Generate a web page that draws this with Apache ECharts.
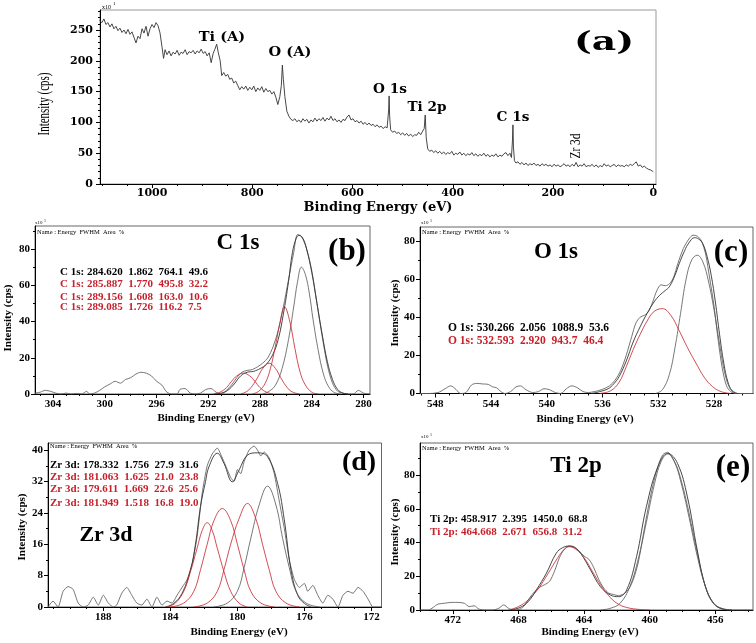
<!DOCTYPE html>
<html><head><meta charset="utf-8">
<script src="https://cdn.jsdelivr.net/npm/echarts@6/dist/echarts.min.js"></script>
<style>html,body{margin:0;padding:0;background:#fff}#c{width:756px;height:643px}</style>
</head><body><div id="c"></div>
<script>
// ---------- tick labels ----------
const xTicksA = [0,200,400,600,800,1000];
const yTicksA = [0,50,100,150,200,250];
const xTicksB = [280,284,288,292,296,300,304];
const yTicksB = [0,20,40,60,80];
const xTicksC = [528,532,536,540,544,548];
const yTicksC = [0,20,40,60,80];
const xTicksD = [172,176,180,184,188];
const yTicksD = [0,8,16,24,32,40];
const xTicksE = [456,460,464,468,472];
const yTicksE = [0,20,40,60,80];

// ---------- (a) survey spectrum [eV, counts x10] ----------
const surveyA = [[1105,266],[1100,262],[1096,268],[1092,259],[1088,262],[1084,255],[1080,260],[1076,252],[1072,256],[1068,249],[1064,253],[1060,246],[1056,250],[1052,244],[1048,251],[1044,243],[1040,247],[1036,238],[1032,229],[1028,240],[1024,236],[1020,252],[1016,245],[1012,256],[1008,240],[1004,252],[1000,259],[996,254],[992,262],[988,257],[984,245],[980,222],[977,204],[974,218],[970,210],[966,216],[962,208],[958,214],[954,211],[950,217],[946,209],[942,214],[938,212],[934,218],[930,210],[926,215],[922,213],[918,217],[914,211],[910,216],[906,213],[902,219],[898,212],[894,215],[890,208],[886,213],[882,197],[878,212],[875,218],[871,227],[868,214],[864,200],[861,176],[857,181],[853,175],[849,178],[845,170],[841,172],[837,164],[833,167],[829,160],[825,153],[821,158],[817,154],[813,159],[809,152],[805,157],[801,153],[797,159],[793,150],[789,156],[785,152],[781,158],[777,149],[773,155],[769,150],[765,152],[761,146],[757,150],[753,141],[749,129],[745,142],[742,160],[740,193],[738,170],[735,142],[731,118],[727,110],[723,105],[719,103],[715,106],[711,101],[707,104],[703,100],[699,106],[695,102],[691,105],[687,99],[683,104],[679,101],[675,107],[671,102],[667,106],[663,103],[659,108],[655,102],[651,107],[647,104],[643,110],[639,103],[635,106],[631,101],[627,104],[623,100],[619,105],[615,103],[611,109],[607,112],[603,104],[599,106],[595,101],[591,103],[587,99],[583,102],[579,97],[575,100],[571,96],[567,99],[563,95],[559,97],[555,93],[551,96],[547,92],[543,94],[539,90],[535,93],[531,91],[528,120],[527,143],[526,110],[524,88],[520,84],[516,86],[512,82],[508,84],[504,80],[500,83],[496,79],[492,82],[488,78],[484,81],[480,77],[476,80],[472,79],[468,84],[464,80],[460,86],[457,90],[455,112],[453,75],[450,57],[446,53],[442,55],[438,51],[434,54],[430,50],[426,53],[422,49],[418,52],[414,48],[410,51],[406,49],[402,53],[398,47],[394,50],[390,48],[386,52],[382,47],[378,50],[374,46],[370,49],[366,47],[362,51],[358,46],[354,49],[350,45],[346,48],[342,46],[338,50],[334,45],[330,48],[326,44],[322,47],[318,45],[314,49],[310,44],[306,47],[302,45],[298,49],[294,51],[290,46],[286,50],[283,43],[281,70],[280,96],[279,60],[277,38],[274,34],[270,36],[266,32],[262,35],[258,31],[254,34],[250,30],[246,33],[242,31],[238,34],[234,30],[230,32],[226,29],[222,33],[218,30],[214,32],[210,29],[206,31],[202,28],[198,32],[194,29],[190,31],[186,28],[182,30],[178,33],[174,29],[170,31],[166,28],[162,32],[158,29],[154,35],[150,28],[146,31],[142,29],[138,33],[134,28],[130,30],[126,29],[122,32],[118,28],[114,31],[110,27],[106,30],[102,28],[98,33],[94,29],[90,31],[86,28],[82,30],[78,32],[74,28],[70,31],[66,29],[62,30],[58,28],[54,31],[50,29],[46,32],[42,30],[38,33],[34,36],[30,29],[26,31],[22,27],[18,29],[14,26],[10,24],[6,23],[2,21],[0,20]];

// ---------- (b) C 1s ----------
const c1sRaw = [[305.4,0.5],[305,1],[304.6,2],[304.2,1.5],[303.8,0.5],[303.4,0],[303,0.5],[302.6,0],[302.2,0.3],[301.8,0],[301.4,1.5],[301.2,0],[300.8,0.5],[300.4,2],[300,4],[299.6,5.5],[299.2,7],[298.8,6],[298.4,8],[298,9],[297.6,11],[297.2,12],[296.8,11.5],[296.4,10],[296,7],[295.6,5],[295.2,1],[294.8,0],[294.4,0],[294.2,2.5],[293.8,3],[293.4,0.5],[293,0],[292.6,0.5],[292.2,2.5],[291.8,3],[291.4,1],[291,0],[290.6,2],[290.2,5],[289.8,9],[289.4,12],[289,13],[288.6,13.5],[288.2,15],[287.8,17],[287.4,20],[287,26],[286.6,35],[286.2,48],[285.8,63],[285.4,78],[285.1,88],[284.8,87],[284.4,80],[284,68],[283.6,50],[283.2,32],[282.8,16],[282.4,6],[282,1.5],[281.6,0.5],[281.2,0],[280.8,0],[280.4,2],[280,0.5],[279.5,0]];
const c1sEnv = [[291.5,0],[291,0.5],[290.5,2],[290,5.5],[289.5,10],[289,12],[288.5,12.5],[288,14],[287.5,16.5],[287,22],[286.6,30],[286.2,44],[285.8,62],[285.5,78],[285.2,86],[285,87.5],[284.7,86],[284.4,80],[284,67],[283.6,50],[283.2,33],[282.8,18],[282.4,8],[282,2.5],[281.6,0.5],[281.2,0]];
const c1sComp1 = [[287.8,0],[287.3,1.5],[286.8,5],[286.3,14],[285.8,30],[285.4,48],[285.1,62],[284.8,70],[284.5,66],[284.2,56],[283.9,41],[283.5,24],[283.1,11],[282.7,4],[282.3,1],[281.8,0]];
const c1sComp2 = [[288.6,0],[288.1,1.5],[287.6,6],[287.2,14],[286.8,27],[286.5,38],[286.1,48],[285.7,40],[285.3,25],[284.9,12],[284.5,5],[284,1],[283.5,0]];
const c1sComp3 = [[289.5,0],[289,1.5],[288.6,4.5],[288.2,9],[287.8,14],[287.3,17],[286.8,14],[286.4,9],[286,4.5],[285.6,1.5],[285,0]];
const c1sComp4 = [[291.6,0],[291.1,1],[290.6,3.5],[290.2,7],[289.8,10],[289.3,11.5],[288.8,10],[288.4,7],[288,3.5],[287.5,1],[287,0]];

// ---------- (c) O 1s ----------
const o1sRaw = [[549.1,0],[548.5,0],[547.8,0.5],[547.3,2.5],[546.9,4],[546.5,2],[546.2,0],[545.8,0.5],[545.4,4.5],[545,5.3],[544.6,5],[544.2,4.8],[543.9,3.5],[543.6,3],[543.3,1],[543,0],[542.6,1],[542.2,3.5],[541.9,4],[541.5,2],[541,0.5],[540.6,1],[540.2,2.5],[539.8,2],[539.4,0.5],[539,0],[538.6,2.5],[538.2,4],[537.8,3],[537.4,1],[537,0.5],[536.6,1],[536.3,1.5],[535.9,2.5],[535.5,4],[535.1,7],[534.7,12],[534.3,20],[533.9,30],[533.6,37],[533.3,40],[533,41],[532.7,43],[532.4,48],[532.1,54],[531.8,57],[531.5,56.5],[531.2,57.5],[530.9,61],[530.6,68],[530.2,76],[529.8,81],[529.5,83],[529.2,82.5],[528.9,80],[528.6,73],[528.3,60],[528,46],[527.7,28],[527.4,13],[527.1,4],[526.8,1],[526.4,0],[525.2,0]];
const o1sEnv = [[536.8,0],[536.2,1],[535.6,2.5],[535.2,5],[534.8,9],[534.3,17],[533.8,27],[533.3,35],[532.8,42],[532.3,48],[531.9,51.5],[531.5,54],[531.2,56],[530.8,62],[530.5,68],[530.1,75],[529.8,79],[529.4,81.7],[529.1,81],[528.8,78.5],[528.5,72],[528.2,62],[527.9,48],[527.6,31],[527.3,16],[527,6],[526.7,1.5],[526.3,0]];
const o1sComp1 = [[532.2,0],[531.7,2],[531.2,10],[530.8,24],[530.4,42],[530,60],[529.6,70],[529.2,72.5],[528.8,69],[528.4,59],[528,44],[527.6,26],[527.2,10],[526.8,2],[526.4,0]];
const o1sComp2 = [[536.2,0],[535.4,1.5],[534.8,6],[534.3,14],[533.8,23],[533.3,31],[532.8,38],[532.3,43],[531.7,44.5],[531.1,41],[530.5,33],[529.9,24],[529.3,16],[528.7,8.5],[528.1,3.6],[527.5,1],[526.8,0]];

// ---------- (d) Zr 3d ----------
const zrRaw = [[191.3,0],[191,1.5],[190.7,0],[190.4,4],[190.1,5.2],[189.8,4.5],[189.5,1],[189.2,0],[188.9,0.5],[188.6,2.5],[188.3,0.5],[188,3],[187.7,1],[187.4,0],[187.2,0.5],[186.9,3.5],[186.6,5],[186.3,3],[186,1],[185.7,0.5],[185.4,2],[185.1,0],[184.8,2.5],[184.5,0.5],[184.2,1.5],[183.9,1],[183.6,3],[183.3,5],[183,7],[182.7,11],[182.4,18],[182.1,29],[181.8,36],[181.5,39],[181.2,40.5],[180.9,38],[180.6,35],[180.4,33],[180.2,32],[180,35],[179.8,34],[179.6,37],[179.3,40],[179,41],[178.8,40],[178.6,38.5],[178.4,39.5],[178.1,38],[177.8,34],[177.5,27],[177.2,20],[176.9,12],[176.6,7],[176.3,5],[176,6],[175.8,4],[175.5,5.5],[175.2,3],[174.9,1],[174.6,3],[174.3,2],[174,0],[173.7,3],[173.4,4],[173.1,3.5],[172.8,5],[172.5,4],[172.2,2],[171.9,0],[171.4,0]];
const zrEnv = [[184.3,0],[183.8,0.9],[183.3,3.5],[182.8,9.4],[182.5,16],[182.2,25.6],[181.9,32],[181.7,35.7],[181.2,39.2],[180.8,36.6],[180.3,31.9],[179.9,34.9],[179.4,38.7],[178.8,39.3],[178.2,38.3],[177.6,31.5],[177.2,22.2],[176.8,9.4],[176.4,3],[176,0.9],[175.6,0]];
const zrComp1 = [[181.4,0],[180.6,1],[180,4],[179.6,10],[179.2,17.5],[178.7,26],[178.2,30.8],[177.7,26],[177.3,17.5],[176.9,10],[176.5,4],[175.9,1],[175.1,0]];
const zrComp2 = [[184,0],[183.2,1],[182.6,4],[182.2,9.5],[181.8,16],[181.4,22],[180.9,25.1],[180.4,22],[180,16],[179.6,9.5],[179.2,4],[178.6,1],[177.8,0]];
const zrComp3 = [[182.6,0],[181.8,1],[181.2,4],[180.8,9.5],[180.4,16],[179.9,22.5],[179.4,26.4],[178.9,22.5],[178.5,16],[178.1,9.5],[177.7,4],[177.1,1],[176.3,0]];
const zrComp4 = [[184.2,0],[183.7,1],[183.2,4],[182.8,9],[182.4,15],[182.1,19.5],[181.8,21.5],[181.5,19.5],[181.2,15],[180.8,9],[180.4,4],[179.9,1],[179.4,0]];

// ---------- (e) Ti 2p ----------
const tiRaw = [[474,0],[473.5,0],[473.2,1.5],[472.9,3.5],[472.5,4],[472.1,4.5],[471.7,4.5],[471.3,4],[471,2],[470.7,2.5],[470.4,0.5],[470,0],[469.6,0],[469.2,1],[468.9,3],[468.6,1],[468.3,0],[467.9,0.5],[467.6,3],[467.3,7.5],[467,11],[466.7,13.5],[466.4,15],[466.1,17],[465.8,23],[465.5,31],[465.2,36],[464.9,38],[464.6,37.5],[464.3,35],[464,32],[463.7,30],[463.4,25],[463.1,18],[462.8,13],[462.5,10],[462.2,9.2],[461.9,8.5],[461.6,9.5],[461.3,12],[461,18],[460.7,28],[460.4,44],[460.1,60],[459.8,74],[459.5,85],[459.2,92],[458.9,93.5],[458.6,90],[458.3,84],[458,74],[457.7,62],[457.4,48],[457.1,34],[456.8,21],[456.5,11],[456.2,5],[455.9,2],[455.5,0.5],[455,0],[453.7,0]];
const tiEnv = [[468.5,0],[467.9,1.5],[467.4,5],[466.9,12],[466.3,21.7],[465.7,33.6],[465.3,37],[464.9,37.9],[464.5,36.5],[464.2,33.6],[463.6,23.7],[463,13.8],[462.4,8.9],[461.9,7.9],[461.4,11.9],[460.8,31.6],[460.2,61.2],[459.5,84.9],[458.9,92.8],[458.3,86.9],[457.7,67.1],[457.1,35.6],[456.6,13.8],[456.1,4],[455.5,0.4],[455,0]];
const tiComp1 = [[463,0],[462.4,1],[461.8,4],[461.2,14],[460.7,30],[460.2,52],[459.7,75],[459.3,88],[458.9,92.5],[458.5,88],[458.1,76],[457.6,55],[457.1,32],[456.6,14],[456.1,4],[455.6,1],[455,0]];
const tiComp2 = [[468.6,0],[468,2],[467.4,6],[466.8,12.5],[466.2,21.5],[465.6,31],[465.2,36],[464.9,37.5],[464.5,36],[464,31],[463.5,23],[463,15],[462.5,8.5],[462,4],[461.4,1.5],[460.6,0.3],[460,0]];

// ---------- fit parameter lines ----------
const fitB = ['C 1s: 284.620  1.862  764.1  49.6','C 1s: 285.887  1.770  495.8  32.2','C 1s: 289.156  1.608  163.0  10.6','C 1s: 289.085  1.726  116.2  7.5'];
const fitC = ['O 1s: 530.266  2.056  1088.9  53.6','O 1s: 532.593  2.920  943.7  46.4'];
const fitD = ['Zr 3d: 178.332  1.756  27.9  31.6','Zr 3d: 181.063  1.625  21.0  23.8','Zr 3d: 179.611  1.669  22.6  25.6','Zr 3d: 181.949  1.518  16.8  19.0'];
const fitE = ['Ti 2p: 458.917  2.395  1450.0  68.8','Ti 2p: 464.668  2.671  656.8  31.2'];

// ---------- layout ----------
const SERIF = 'Liberation Serif';
const WIDE = 'DejaVu Serif';
const RED = '#c8202a';
const panels = [
  {grid:{left:100,top:10,width:556,height:174}, x:[-5.4,1103.8], y:[0,282.5], xt:xTicksA, yt:yTicksA, xm:50, ym:10, font:WIDE, fs:11, xMargin:4, yMargin:7, border:'#999'},
  {grid:{left:35,top:226,width:335,height:168}, x:[279.5,305.4], y:[0,92.7], xt:xTicksB, yt:yTicksB, xm:1, ym:10, font:SERIF, fs:11, xMargin:5, yMargin:5, border:'#666'},
  {grid:{left:420,top:227,width:333,height:166.5}, x:[525.2,549.1], y:[0,87.3], xt:xTicksC, yt:yTicksC, xm:1, ym:10, font:SERIF, fs:11, xMargin:5, yMargin:5, border:'#666'},
  {grid:{left:48,top:443,width:333.5,height:164}, x:[171.4,191.3], y:[0,41.8], xt:xTicksD, yt:yTicksD, xm:1, ym:4, font:SERIF, fs:11, xMargin:5, yMargin:5, border:'#666'},
  {grid:{left:420,top:443,width:333,height:167}, x:[453.7,474.0], y:[0,99], xt:xTicksE, yt:yTicksE, xm:1, ym:10, font:SERIF, fs:11, xMargin:5, yMargin:5, border:'#666'}
];

function minors(lo, hi, step, majors){
  const out = [];
  for (let v = Math.ceil(lo/step)*step; v <= hi + 1e-9; v += step){
    const r = Math.round(v*1000)/1000;
    if (majors.indexOf(r) < 0) out.push(r);
  }
  return out;
}
const plain = v => String(v);

const grids = [], xAxes = [], yAxes = [];
panels.forEach((p,i)=>{
  grids.push(Object.assign({show:true, borderColor:p.border, borderWidth:1, backgroundColor:'transparent'}, p.grid));
});
// major axes
panels.forEach((p,i)=>{
  xAxes.push({type:'value', gridIndex:i, position:'bottom', inverse:true, min:p.x[0], max:p.x[1],
    axisLine:{show:true, onZero:false, lineStyle:{color:'#000', width:1}},
    axisTick:{show:true, inside:false, length:4, customValues:p.xt, lineStyle:{color:'#000'}},
    axisLabel:{show:true, customValues:p.xt, formatter:plain, margin:p.xMargin, color:'#000', fontFamily:p.font, fontWeight:'bold', fontSize:p.fs},
    splitLine:{show:false}});
  yAxes.push({type:'value', gridIndex:i, position:'left', min:p.y[0], max:p.y[1],
    axisLine:{show:true, onZero:false, lineStyle:{color:'#000', width:1}},
    axisTick:{show:true, inside:false, length:4, customValues:p.yt, lineStyle:{color:'#000'}},
    axisLabel:{show:true, customValues:p.yt, formatter:plain, margin:p.yMargin, color:'#000', fontFamily:p.font, fontWeight:'bold', fontSize:p.fs},
    splitLine:{show:false}});
});
// minor tick axes
panels.forEach((p,i)=>{
  xAxes.push({type:'value', gridIndex:i, position:'bottom', inverse:true, min:p.x[0], max:p.x[1],
    axisLine:{show:false, onZero:false}, axisLabel:{show:false},
    axisTick:{show:true, inside:false, length:2, customValues:minors(p.x[0],p.x[1],p.xm,p.xt), lineStyle:{color:'#000'}},
    splitLine:{show:false}});
  yAxes.push({type:'value', gridIndex:i, position:'left', min:p.y[0], max:p.y[1],
    axisLine:{show:false, onZero:false}, axisLabel:{show:false},
    axisTick:{show:true, inside:false, length:2, customValues:minors(p.y[0],p.y[1],p.ym,p.yt), lineStyle:{color:'#000'}},
    splitLine:{show:false}});
});

function ln(i, data, color, width, smooth){
  return {type:'line', xAxisIndex:i, yAxisIndex:i, data:data, showSymbol:false, symbol:'none',
    smooth:smooth, lineStyle:{color:color, width:width}, silent:true, clip:true, animation:false};
}
const series = [
  ln(0, surveyA, '#333', 0.9, false),
  ln(1, c1sRaw, '#666', 0.9, 0.3), ln(1, c1sEnv, '#333', 0.9, 0.4),
  ln(1, c1sComp1, '#555', 0.8, 0.4), ln(1, c1sComp2, RED, 0.8, 0.4), ln(1, c1sComp3, RED, 0.8, 0.4), ln(1, c1sComp4, RED, 0.8, 0.4),
  ln(2, o1sRaw, '#666', 0.9, 0.3), ln(2, o1sEnv, '#333', 0.9, 0.4),
  ln(2, o1sComp1, '#555', 0.8, 0.4), ln(2, o1sComp2, RED, 0.8, 0.4),
  ln(3, zrRaw, '#666', 0.9, 0.2), ln(3, zrEnv, '#333', 0.9, 0.4),
  ln(3, zrComp1, '#555', 0.8, 0.4), ln(3, zrComp2, RED, 0.8, 0.4), ln(3, zrComp3, RED, 0.8, 0.4), ln(3, zrComp4, RED, 0.8, 0.4),
  ln(4, tiRaw, '#666', 0.9, 0.3), ln(4, tiEnv, '#333', 0.9, 0.4),
  ln(4, tiComp1, '#555', 0.8, 0.4), ln(4, tiComp2, RED, 0.8, 0.4)
];

// ---------- texts ----------
function txt(text, x, y, o){
  o = o || {};
  return {type:'text', x:x, y:y, rotation:o.rot||0, scaleX:o.sx||1, scaleY:o.sy||1, silent:true, z:100,
    style:{text:text, fill:o.color||'#000', align:o.align||'center', verticalAlign:'middle',
      font:(o.weight||'bold')+' '+(o.size||11)+'px "'+(o.family||SERIF)+'"'}};
}
const g = [];
// (a)
g.push(txt('x10',102,7,{align:'left',size:6,weight:'normal'}));
g.push(txt('1',113,4,{align:'left',size:5,weight:'normal'}));
g.push(txt('Ti (A)',222,38,{size:13,family:WIDE,sx:1.12}));
g.push(txt('O (A)',290,53,{size:13,family:WIDE,sx:1.12}));
g.push(txt('O 1s',390,90,{size:13,family:WIDE,sx:1.05}));
g.push(txt('Ti 2p',427,108,{size:13,family:WIDE,sx:1.05}));
g.push(txt('C 1s',513,118,{size:13,family:WIDE,sx:1.05}));
g.push(txt('Zr 3d',576,146,{size:14,weight:'normal',rot:Math.PI/2,sx:0.82}));
g.push(txt('(a)',604,43,{size:26,family:WIDE,sx:1.45}));
g.push(txt('Intensity (cps)',45,104,{size:16,weight:'normal',rot:Math.PI/2,sx:0.685}));
g.push(txt('Binding Energy (eV)',378,208,{size:13,family:WIDE}));
// (b)
g.push(txt('x10',35,223,{align:'left',size:5,weight:'normal'}));
g.push(txt('1',44,221,{align:'left',size:4,weight:'normal'}));
g.push(txt('Name : Energy  FWHM  Area  %',37,232.5,{align:'left',size:6.5,weight:'normal'}));
g.push(txt('C 1s',238,243,{size:23}));
g.push(txt('(b)',347,252,{size:31}));
[271.7,284.3,297.3,306.7].forEach((yy,k)=>g.push(txt(fitB[k],60,yy,{align:'left',size:11,color:k===0?'#000':RED})));
g.push(txt('Intensity (cps)',8.5,318,{size:11,rot:Math.PI/2}));
g.push(txt('Binding Energy (eV)',206,418,{size:11}));
// (c)
g.push(txt('x10',421,223,{align:'left',size:5,weight:'normal'}));
g.push(txt('1',430,221,{align:'left',size:4,weight:'normal'}));
g.push(txt('Name : Energy  FWHM  Area  %',422,232.5,{align:'left',size:6.5,weight:'normal'}));
g.push(txt('O 1s',556,252,{size:23}));
g.push(txt('(c)',731,253,{size:31}));
[328.3,341].forEach((yy,k)=>g.push(txt(fitC[k],448,yy,{align:'left',size:11.5,color:k===0?'#000':RED})));
g.push(txt('Intensity (cps)',395,313,{size:11,rot:Math.PI/2}));
g.push(txt('Binding Energy (eV)',585,419,{size:11}));
// (d)
g.push(txt('Name : Energy  FWHM  Area  %',50,446,{align:'left',size:6.5,weight:'normal'}));
g.push(txt('Zr 3d',106,535,{size:22}));
g.push(txt('(d)',359,463,{size:28}));
[465,477.3,489.3,502.7].forEach((yy,k)=>g.push(txt(fitD[k],50,yy,{align:'left',size:11,color:k===0?'#000':RED})));
g.push(txt('Intensity (cps)',21.7,527,{size:11,rot:Math.PI/2}));
g.push(txt('Binding Energy (eV)',239,632,{size:11}));
// (e)
g.push(txt('x10',421,437,{align:'left',size:5,weight:'normal'}));
g.push(txt('1',430,435,{align:'left',size:4,weight:'normal'}));
g.push(txt('Name : Energy  FWHM  Area  %',422,448,{align:'left',size:6.5,weight:'normal'}));
g.push(txt('Ti 2p',576,466,{size:23}));
g.push(txt('(e)',733,468,{size:31}));
[519.3,531.7].forEach((yy,k)=>g.push(txt(fitE[k],430,yy,{align:'left',size:11,color:k===0?'#000':RED})));
g.push(txt('Intensity (cps)',395,532,{size:11,rot:Math.PI/2}));
g.push(txt('Binding Energy (eV)',590,632.5,{size:11}));

const chart = echarts.init(document.getElementById('c'), null, {renderer:'canvas', width:756, height:643});
chart.setOption({
  animation:false,
  backgroundColor:'#fff',
  grid:grids, xAxis:xAxes, yAxis:yAxes, series:series, graphic:g
});
</script></body></html>
